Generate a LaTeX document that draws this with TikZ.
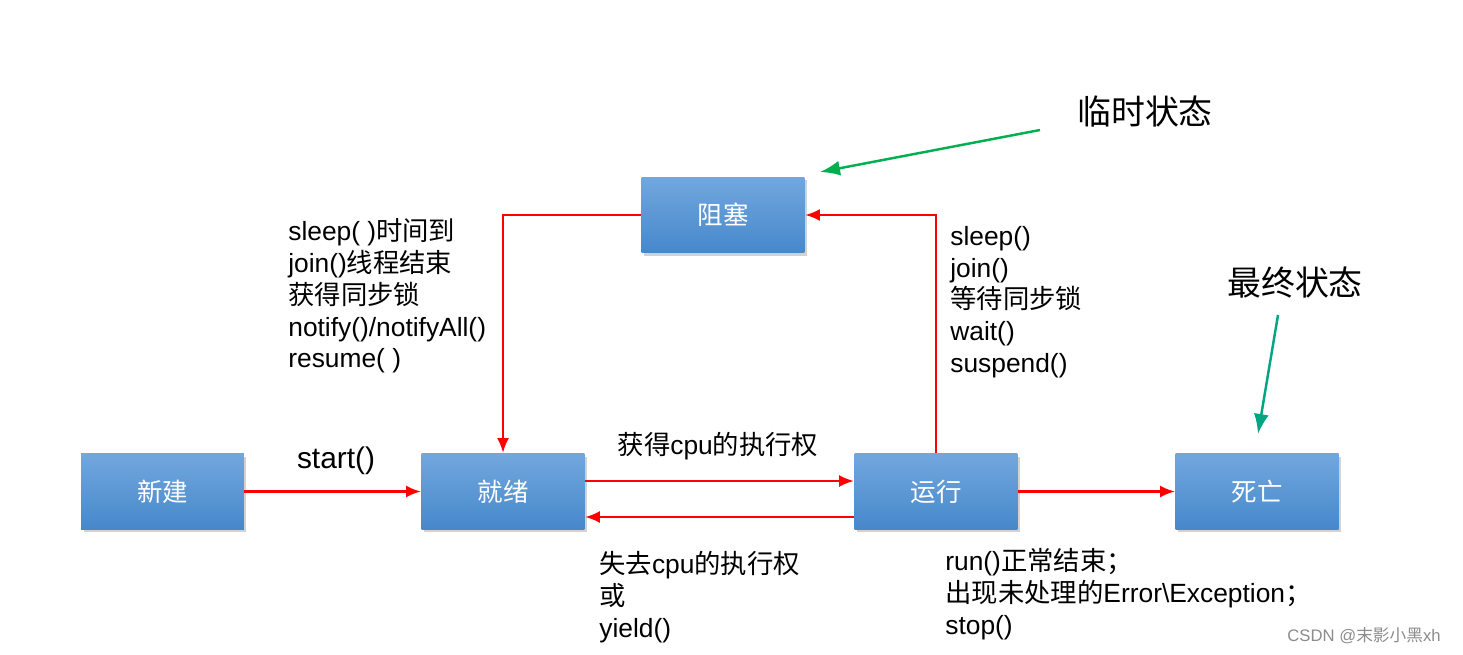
\documentclass[tikz,border=0pt]{standalone}
\usepackage{fontspec}
\setmainfont{Liberation Sans}
\newfontfamily\cjk{Noto Sans CJK SC}
\usetikzlibrary{arrows.meta,shadows}
\definecolor{BoxTop}{RGB}{114,167,222}
\definecolor{BoxBottom}{RGB}{70,136,203}
\definecolor{LineRed}{RGB}{255,0,0}
\definecolor{NoteGreen}{RGB}{0,176,80}
\definecolor{NoteTeal}{RGB}{0,166,130}

\begin{document}
\begin{tikzpicture}[>=Latex,x=0.02cm,y=-0.02cm,
  state/.style={top color=BoxTop,bottom color=BoxBottom,minimum width=3.26cm,minimum height=1.52cm,
    text=white,font=\cjk\fontsize{14.5}{16}\selectfont,
    drop shadow={shadow xshift=0.05cm,shadow yshift=-0.06cm,opacity=0.35}},
  flow/.style={->,line width=1.6pt,draw=LineRed,
    arrows={-Latex[length=0.3cm,width=0.24cm]}},
  note/.style={line width=1.4pt,arrows={-Latex[length=0.4cm,width=0.3cm]}},
  lbl/.style={inner sep=0pt,align=left,font=\fontsize{15}{18.1}\selectfont},
  tag/.style={inner sep=0pt,font=\cjk\fontsize{19.3}{22}\selectfont}]
\useasboundingbox[fill=white] (0,0) rectangle (1463,655);

% states
\node[state] (new) at (162.5,491.5) {新建};
\node[state] (ready) at (503,491.5) {就绪};
\node[state] (run) at (936,491.5) {运行};
\node[state] (dead) at (1257,491.5) {死亡};
\node[state] (block) at (723,215) {阻塞};

% transitions
\draw[flow] (new) -- (ready);
\draw[flow] ([yshift=0.21cm]ready.east) -- ([yshift=0.21cm]run.west);
\draw[flow] ([yshift=-0.51cm]run.west) -- ([yshift=-0.51cm]ready.east);
\draw[flow] (run) -- (dead);
\draw[flow] (block.west) -| (ready.north);
\draw[flow] (run.north) |- (block.east);

% labels
\node[lbl,font=\fontsize{17}{19}\selectfont] (lstart) at (336,461) {start()};
\node[lbl] (lget) at (718,446) {{\cjk 获得}cpu{\cjk 的执行权}};
\node[lbl,anchor=west] (llose) at (599,597) {{\cjk 失去}cpu{\cjk 的执行权}\\{\cjk 或}\\yield()};
\node[lbl,anchor=west] (lend) at (945,594) {run(){\cjk 正常结束；}\\{\cjk 出现未处理的}Error\textbackslash Exception{\cjk ；}\\stop()};
\node[lbl,anchor=west] (lwake) at (288,296) {sleep( ){\cjk 时间到}\\join(){\cjk 线程结束}\\{\cjk 获得同步锁}\\notify()/notifyAll()\\resume( )};
\node[lbl,anchor=west] (lwait) at (950,302) {sleep()\\join()\\{\cjk 等待同步锁}\\wait()\\suspend()};

% notes
\node[tag] (ltemp) at (1145,112) {临时状态};
\node[tag] (lfinal) at (1295,283) {最终状态};
\coordinate (tempTail) at (1040,130);
\coordinate (tempHead) at (820,172);
\coordinate (finalTail) at (1278,315);
\coordinate (finalHead) at (1258,434);
\draw[note,NoteGreen] (tempTail) -- (tempHead);
\draw[note,NoteTeal] (finalTail) -- (finalHead);

\node[inner sep=0pt,text=black!45,font=\fontsize{9.5}{11}\selectfont] (mark) at (1364,636) {CSDN @{\cjk 末影小黑}xh};
\end{tikzpicture}
\end{document}
